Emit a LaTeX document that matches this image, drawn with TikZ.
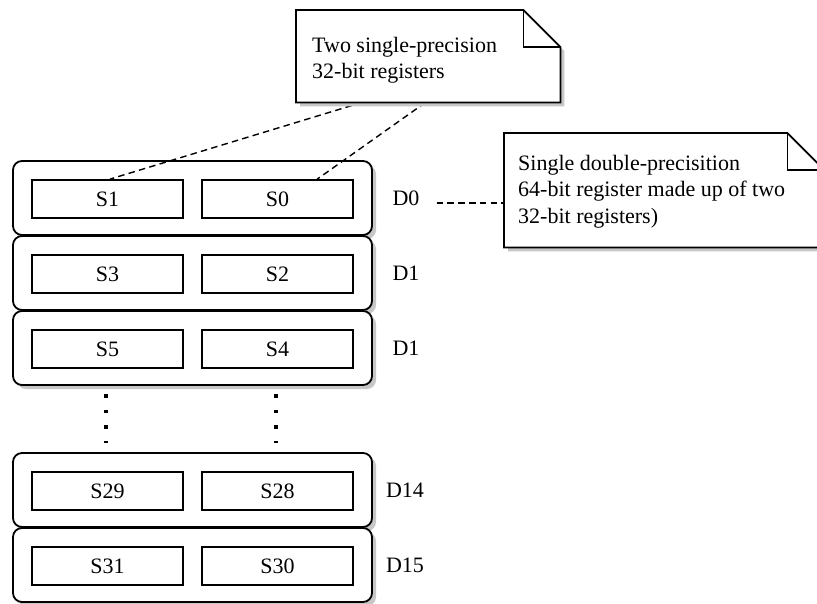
\documentclass[tikz,border=0pt]{standalone}
\usepackage{fontspec}
\setmainfont{Liberation Serif}
\usetikzlibrary{calc,shadows}
\begin{document}
\begin{tikzpicture}[x=1pt,y=-1pt,
  every node/.style={font=\fontsize{22}{26.5}\selectfont},
  dbox/.style={draw, line width=1.8pt, rounded corners=9pt, minimum width=359pt,
    minimum height=74pt, fill=white, inner sep=0pt,
    drop shadow={shadow xshift=4pt, shadow yshift=-4pt, opacity=1, fill=black!22}},
  sbox/.style={draw, line width=1.8pt, minimum width=151pt, minimum height=38pt, inner sep=0pt},
  dlabel/.style={inner sep=0pt},
  noteframe/.style={inner sep=0pt, anchor=north west},
  notetext/.style={inner sep=0pt, anchor=base west},
  noteline/.style={line width=1.8pt, line join=miter},
  shadowfill/.style={fill=black!22},
  dashline/.style={line width=1.4pt, dash pattern=on 6.5pt off 4.3pt},
  dotline/.style={line width=3.6pt, dash pattern=on 3.6pt off 12pt}
]
\useasboundingbox (0,0) rectangle (817,603);

% register boxes
\node[dbox] (d0) at (192.5,198) {};
\node[dbox] (d1) at (192.5,273) {};
\node[dbox] (d2) at (192.5,348) {};
\node[dbox] (d14) at (192.5,490) {};
\node[dbox] (d15) at (192.5,565) {};

\node[sbox] (s1) at (107.5,199) {S1};
\node[sbox] (s0) at (277.5,199) {S0};
\node[sbox] (s3) at (107.5,274) {S3};
\node[sbox] (s2) at (277.5,274) {S2};
\node[sbox] (s5) at (107.5,349) {S5};
\node[sbox] (s4) at (277.5,349) {S4};
\node[sbox] (s29) at (107.5,491) {S29};
\node[sbox] (s28) at (277.5,491) {S28};
\node[sbox] (s31) at (107.5,566) {S31};
\node[sbox] (s30) at (277.5,566) {S30};

\node[dlabel] (l0) at (406,198) {D0};
\node[dlabel] (l1) at (406,273) {D1};
\node[dlabel] (l2) at (406,348) {D1};
\node[dlabel] (l14) at (405,490) {D14};
\node[dlabel] (l15) at (405,565) {D15};

% ellipsis dots
\draw[dotline] ($(d2.south -| s5.center)+(-1.5,8.2)$) -- ($(d14.north -| s29.center)+(-1.5,-9)$);
\draw[dotline] ($(d2.south -| s4.center)+(-1.5,8.2)$) -- ($(d14.north -| s28.center)+(-1.5,-9)$);

% note frames
\node[noteframe, minimum width=264pt, minimum height=92pt] (n1) at (296,10) {};
\node[noteframe, minimum width=320pt, minimum height=114pt] (n2) at (504,133) {};

% connectors
\draw[dashline] ($(n1.south west)!0.25!(n1.south east)$) -- ($(s1.north)+(2.5,0)$);
\draw[dashline] ($(n1.south west)!0.49!(n1.south east)$) -- ($(s0.north west)!0.76!(s0.north east)$);
\draw[dashline] ($(l0.mid east)+(17,0)$) -- (l0.mid east -| n2.west);

% note 1 shape
\fill[shadowfill] ($(n1.north west)+(4,4)$) -- ($(n1.north east)+(-33,4)$) -- ($(n1.north east)+(4,41)$)
  -- ($(n1.south east)+(4,4)$) -- ($(n1.south west)+(4,4)$) -- cycle;
\draw[noteline, fill=white] (n1.north west) -- ($(n1.north east)+(-37,0)$) -- ($(n1.north east)+(0,37)$)
  -- (n1.south east) -- (n1.south west) -- cycle;
\draw[noteline] ($(n1.north east)+(-37,0)$) |- ($(n1.north east)+(0,37)$);

% note 2 shape
\fill[shadowfill] ($(n2.north west)+(4,4)$) -- ($(n2.north east)+(-33,4)$) -- ($(n2.north east)+(4,41)$)
  -- ($(n2.south east)+(4,4)$) -- ($(n2.south west)+(4,4)$) -- cycle;
\draw[noteline, fill=white] (n2.north west) -- ($(n2.north east)+(-37,0)$) -- ($(n2.north east)+(0,37)$)
  -- (n2.south east) -- (n2.south west) -- cycle;
\draw[noteline] ($(n2.north east)+(-37,0)$) |- ($(n2.north east)+(0,37)$);

% note texts
\node[notetext] (t1) at (312,52) {\begin{tabular}[t]{@{}l@{}}Two single-precision\\32-bit registers\end{tabular}};
\node[notetext] (t2) at (518,170) {\begin{tabular}[t]{@{}l@{}}Single double-precisition\\64-bit register made up of two\\32-bit registers)\end{tabular}};
\end{tikzpicture}
\end{document}
